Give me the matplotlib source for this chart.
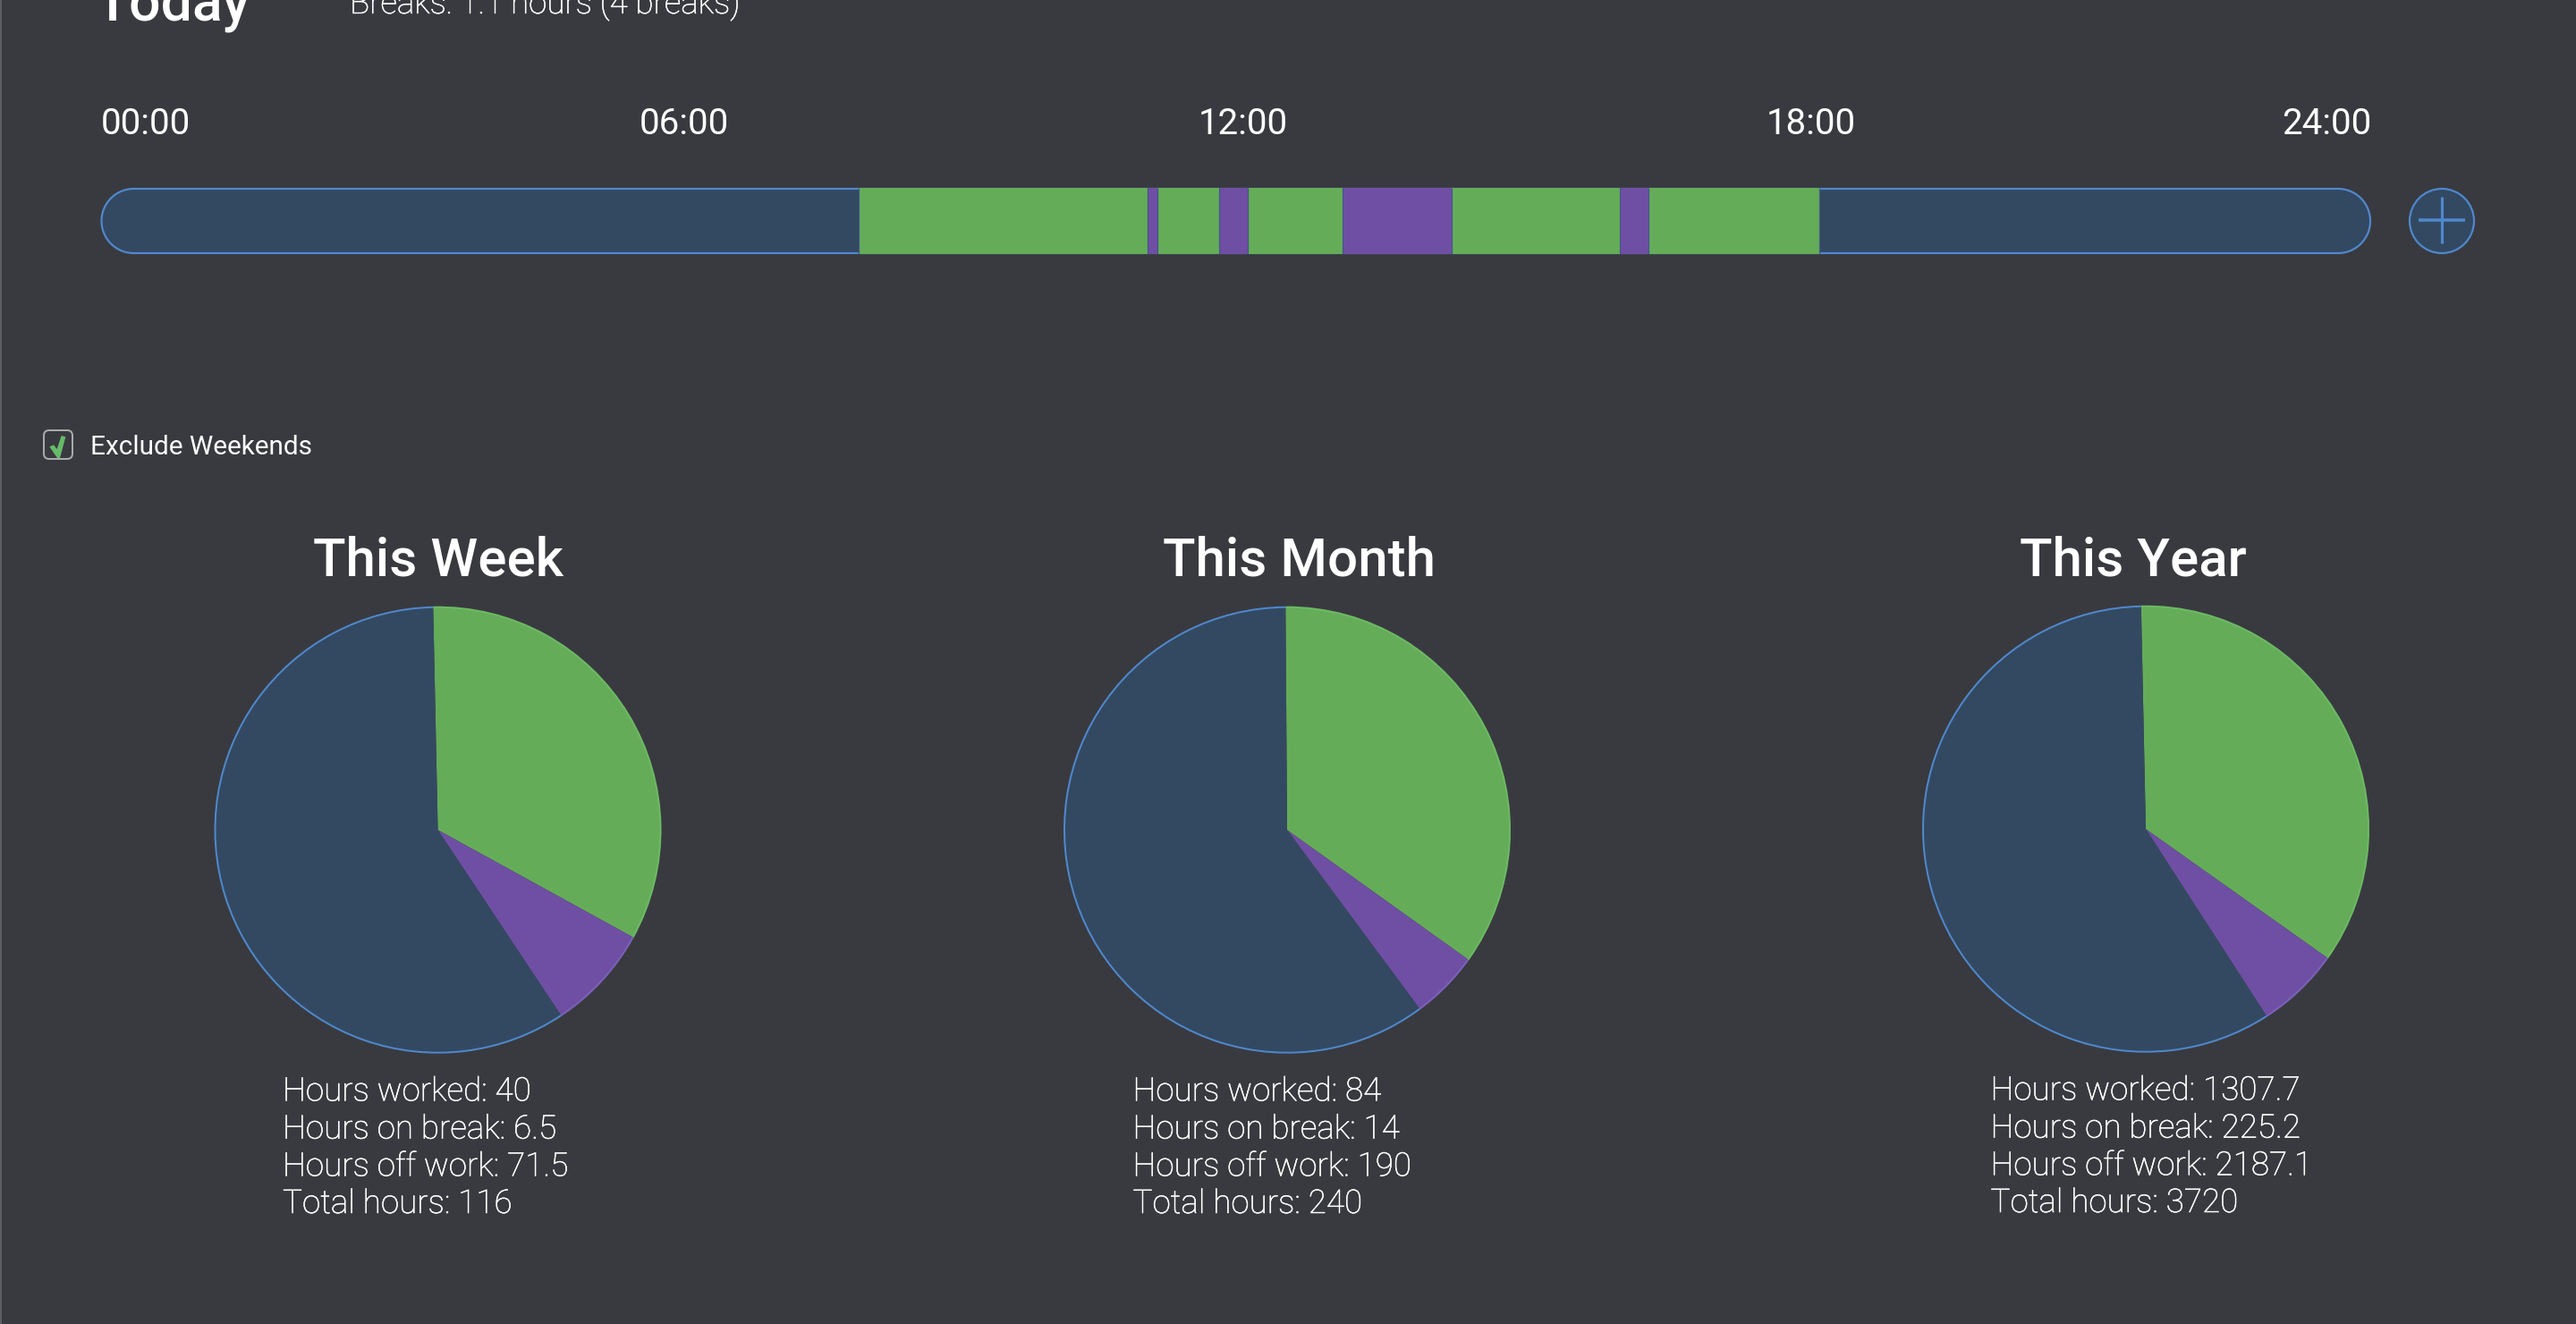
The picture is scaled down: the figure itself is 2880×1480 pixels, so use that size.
import numpy as np
import matplotlib
matplotlib.use("Agg")
import matplotlib.pyplot as plt
import matplotlib.patheffects as pe
from matplotlib.patches import Arc, Circle, FancyBboxPatch, Polygon

# time labels on the day bar
time_labels = ["00:00", "06:00", "12:00", "18:00", "24:00"]

# day timeline, hours (start, end)
work_spans = [(8.017, 11.066), (11.174, 11.82), (12.125, 13.127), (14.28, 16.054), (16.363, 18.17)]
break_spans = [(11.066, 11.174), (11.82, 12.125), (13.127, 14.28), (16.054, 16.363)]

# pies: worked, break, off, as drawn in the picture
period_titles = ["This Week", "This Month", "This Year"]
week_slices = [40, 9.2, 70.8]
month_slices = [84, 11.9, 144.1]
year_slices = [1307.7, 225.2, 2187.1]

week_lines = ["Hours worked: 40", "Hours on break: 6.5", "Hours off work: 71.5", "Total hours: 116"]
month_lines = ["Hours worked: 84", "Hours on break: 14", "Hours off work: 190", "Total hours: 240"]
year_lines = ["Hours worked: 1307.7", "Hours on break: 225.2", "Hours off work: 2187.1", "Total hours: 3720"]

BG = "#393a3f"
NAVY = "#334962"
GREEN = "#65ac59"
PURPLE = "#6f4fa3"
BLUE_EDGE = "#4f88cc"
GREEN_EDGE = "#6cba64"
PURPLE_EDGE = "#7a62bb"
W, H = 2880, 1480
DPI = 100

plt.rcParams["font.family"] = ["Roboto", "DejaVu Sans"]


def pt(px):
    return px * 72 / DPI


def axes_box(left, top, right, bottom):
    return [left / W, 1 - bottom / H, (right - left) / W, (bottom - top) / H]


def light_text(ax, x, y, s, size):
    # Roboto Light comes out dimmer here than in the app, a thin stroke brings it back
    t = ax.text(x, y, s, color="white", fontsize=pt(size), fontweight="light", va="baseline")
    t.set_path_effects([pe.withStroke(linewidth=0.35, foreground="white")])
    return t


fig = plt.figure(figsize=(W / DPI, H / DPI), dpi=DPI, facecolor=BG)

# overlay in image pixels, for the furniture around the charts
bg = fig.add_axes([0, 0, 1, 1])
bg.set_xlim(0, W)
bg.set_ylim(H, 0)
bg.axis("off")
bg.axvspan(0, 2, color="#5c5d61", lw=0)

bg.text(107, 23, "Today", color="white", fontsize=pt(62.5), fontweight="medium", va="baseline")
light_text(bg, 391, 15, "Breaks: 1.1 hours (4 breaks)", 36.7)

label_x = [112.5, 765, 1390, 2025, 2651]
label_ha = ["left", "center", "center", "center", "right"]
for x, ha, lab in zip(label_x, label_ha, time_labels):
    bg.text(x, 149.5, lab, color="white", fontsize=pt(40.2), ha=ha, va="baseline")

# day bar capsule, true half circles at the ends
r_cap = 36
theta = np.linspace(-np.pi / 2, np.pi / 2, 60)
right_end = np.column_stack([2650 - r_cap + r_cap * np.cos(theta), 247 + r_cap * np.sin(theta)])
left_end = np.column_stack([113.5 + r_cap - r_cap * np.cos(theta[::-1]), 247 + r_cap * np.sin(theta[::-1])])
bg.add_patch(Polygon(np.vstack([right_end, left_end]), closed=True, fc=NAVY, ec=BLUE_EDGE, lw=pt(2.2)))

# add button
bg.add_patch(Circle((2730, 247), 36, fc=NAVY, ec=BLUE_EDGE, lw=pt(2.2)))
bg.plot([2704, 2756], [246, 246], color=BLUE_EDGE, lw=pt(3.6), solid_capstyle="butt")
bg.plot([2730, 2730], [220, 272], color=BLUE_EDGE, lw=pt(3.2), solid_capstyle="butt")

# checkbox
bg.add_patch(FancyBboxPatch((49, 481), 32, 32, boxstyle="round,pad=0,rounding_size=6",
                            fc="none", ec="#a9aaac", lw=pt(2)))
check = np.array([(106, 118), (120, 112), (131, 126), (146, 81), (160, 85), (141, 156), (132, 156)], float)
check = check / 3 + [20, 460]
bg.add_patch(Polygon(check, closed=True, fc="#66bb6a", ec="none"))
bg.text(101, 507.5, "Exclude Weekends", color="white", fontsize=pt(29.7), va="baseline")

# day timeline, scaled in hours
tl = fig.add_axes(axes_box(112.5, 210, 2651, 284))
tl.set_xlim(0, 24)
tl.set_ylim(0, 1)
tl.axis("off")
tl.broken_barh([(a, b - a) for a, b in work_spans], (0, 1), facecolors=GREEN, lw=0)
tl.broken_barh([(a, b - a) for a, b in break_spans], (0, 1), facecolors=PURPLE, lw=0)
edges = sorted({v for s in work_spans + break_spans for v in s})
tl.vlines(edges, 0, 1, color="#41578a", lw=pt(1.2))

pie_centres = [(489.5, 927.7), (1439, 927.7), (2399, 926.7)]
pie_starts = [91.2, 90.4, 91.2]
title_x = [490, 1452, 2385]
title_y = [644, 644, 643]
text_x = [316, 1266.5, 2225.5]
text_y = [
    [1230.5, 1272.7, 1314.5, 1356],
    [1230.5, 1272.7, 1314.5, 1356],
    [1229.5, 1271.7, 1313.5, 1355],
]
RADIUS = 249
slices = [week_slices, month_slices, year_slices]
lines = [week_lines, month_lines, year_lines]

for i, (cx, cy) in enumerate(pie_centres):
    box = RADIUS * 1.02
    pa = fig.add_axes(axes_box(cx - box, cy - box, cx + box, cy + box))
    wedges, _ = pa.pie(slices[i], colors=[GREEN, PURPLE, NAVY], startangle=pie_starts[i],
                       counterclock=False, radius=1, wedgeprops={"lw": 0})
    # rim only, the slices have no visible line between them
    for w, ec in zip(wedges, [GREEN_EDGE, PURPLE_EDGE, BLUE_EDGE]):
        pa.add_patch(Arc((0, 0), 2, 2, theta1=w.theta1, theta2=w.theta2, color=ec, lw=pt(2)))
    pa.set_xlim(-1.02, 1.02)
    pa.set_ylim(-1.02, 1.02)

    bg.text(title_x[i], title_y[i], period_titles[i], color="white", fontsize=pt(60),
            fontweight="medium", ha="center", va="baseline")
    for y, s in zip(text_y[i], lines[i]):
        light_text(bg, text_x[i], y, s, 36.8)

fig.savefig("out.png", dpi=DPI, facecolor=BG)
